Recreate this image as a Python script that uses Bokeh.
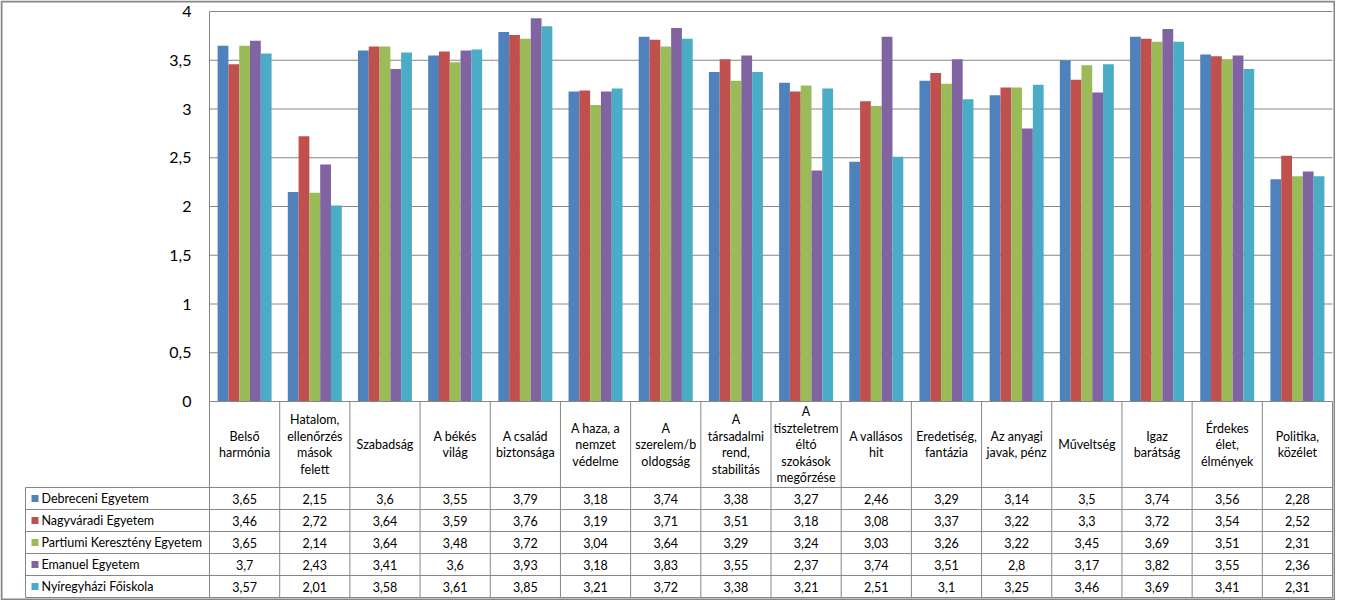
from bokeh.plotting import figure
from bokeh.models import Range1d, LinearAxis, FixedTicker, CustomJSTickFormatter
from bokeh.core.properties import value
from bokeh.embed import file_html
from bokeh.resources import INLINE
import numpy as np

# ---------------- data ----------------
categories = [
    "Belső\nharmónia",
    "Hatalom,\nellenőrzés\nmások\nfelett",
    "Szabadság",
    "A békés\nvilág",
    "A család\nbiztonsága",
    "A haza, a\nnemzet\nvédelme",
    "A\nszerelem/b\noldogság",
    "A\ntársadalmi\nrend,\nstabilitás",
    "A\ntiszteletrem\néltó\nszokások\nmegőrzése",
    "A vallásos\nhit",
    "Eredetiség,\nfantázia",
    "Az anyagi\njavak, pénz",
    "Műveltség",
    "Igaz\nbarátság",
    "Érdekes\nélet,\nélmények",
    "Politika,\nközélet",
]
series_names = [
    "Debreceni Egyetem",
    "Nagyváradi Egyetem",
    "Partiumi Keresztény Egyetem",
    "Emanuel Egyetem",
    "Nyíregyházi Főiskola",
]
debreceni = [3.65, 2.15, 3.6, 3.55, 3.79, 3.18, 3.74, 3.38, 3.27, 2.46, 3.29, 3.14, 3.5, 3.74, 3.56, 2.28]
nagyvaradi = [3.46, 2.72, 3.64, 3.59, 3.76, 3.19, 3.71, 3.51, 3.18, 3.08, 3.37, 3.22, 3.3, 3.72, 3.54, 2.52]
partiumi = [3.65, 2.14, 3.64, 3.48, 3.72, 3.04, 3.64, 3.29, 3.24, 3.03, 3.26, 3.22, 3.45, 3.69, 3.51, 2.31]
emanuel = [3.7, 2.43, 3.41, 3.6, 3.93, 3.18, 3.83, 3.55, 2.37, 3.74, 3.51, 2.8, 3.17, 3.82, 3.55, 2.36]
nyiregyhazi = [3.57, 2.01, 3.58, 3.61, 3.85, 3.21, 3.72, 3.38, 3.21, 2.51, 3.1, 3.25, 3.46, 3.69, 3.41, 2.31]
y_ticks = [0, 0.5, 1, 1.5, 2, 2.5, 3, 3.5, 4]
colors = ["#4F81BD", "#C0504D", "#9BBB59", "#8064A2", "#4BACC6"]

all_series = [debreceni, nagyvaradi, partiumi, emanuel, nyiregyhazi]

# ---------------- layout (figure pixels) ----------------
W, H = 1335, 600
PLOT_L, PLOT_R = 209, 1332
Y_TOP, Y_ZERO = 11, 401
Y_MAX = 4.0
ppu = (Y_ZERO - Y_TOP) / Y_MAX
n = len(categories)
ux = n / (PLOT_R - PLOT_L)
x_start = -0.5 - PLOT_L * ux
x_end = (n - 0.5) + (W - PLOT_R) * ux
y_end = Y_MAX + Y_TOP / ppu
y_start = -(H - Y_ZERO) / ppu

HEADER_BOTTOM = 487
TABLE_BOTTOM = 597
ROW_H = (TABLE_BOTTOM - HEADER_BOTTOM) / len(series_names)
LEG_L = 25

GRID = "#868686"
FONT = "Lato"

p = figure(width=W, height=H, x_range=Range1d(x_start, x_end), y_range=Range1d(y_start, y_end),
           output_backend="svg", toolbar_location=None, x_axis_location=None, y_axis_location=None,
           min_border=0, min_border_left=0, min_border_right=0, min_border_top=0, min_border_bottom=0)
p.grid.visible = False
p.outline_line_color = None
p.background_fill_color = "white"
p.border_fill_color = "white"
p.extra_y_ranges = {"tbl": Range1d(H, 0)}
p.extra_x_ranges = {"px": Range1d(0, W)}

# gridlines (value axis)
grid_vals = [t for t in y_ticks if t > 0]
p.segment(x0=[-0.5] * len(grid_vals), x1=[n - 0.5] * len(grid_vals), y0=grid_vals, y1=grid_vals,
          line_color=GRID, line_width=1)

# bars
bw = 1 / 6.5
xs = np.arange(n)
for s, (vals, col) in enumerate(zip(all_series, colors)):
    p.vbar(x=xs + (s - 2) * bw, top=vals, bottom=0, width=bw, fill_color=col, line_color=None)

# y axis at the plot's left edge
yax = LinearAxis(fixed_location=-0.5, ticker=FixedTicker(ticks=y_ticks),
                 formatter=CustomJSTickFormatter(code="return tick.toString().replace('.', ',')"))
yax.axis_line_color = None
yax.major_tick_out = 0
yax.major_tick_in = 0
yax.minor_tick_out = 0
yax.minor_tick_in = 0
yax.major_label_standoff = 18
yax.major_label_text_font = FONT
yax.major_label_text_font_size = "16px"
yax.major_label_text_color = "#000000"
p.add_layout(yax, "left")

# axis line
p.segment(x0=[-0.5], x1=[-0.5], y0=[0], y1=[Y_MAX], line_color=GRID, line_width=1)

# ---------------- data table ----------------
tb = dict(y_range_name="tbl")
p.segment(x0=[-0.5], x1=[n - 0.5], y0=[Y_ZERO], y1=[Y_ZERO], line_color=GRID, line_width=1, **tb)
bx = [i - 0.5 for i in range(n + 1)]
p.segment(x0=bx, x1=bx, y0=[Y_ZERO] * len(bx), y1=[TABLE_BOTTOM] * len(bx), line_color=GRID, line_width=1, **tb)
row_lines = [HEADER_BOTTOM + r * ROW_H for r in range(len(series_names) + 1)]
p.segment(x0=[LEG_L] * len(row_lines), x1=[PLOT_R] * len(row_lines), y0=row_lines, y1=row_lines,
          line_color=GRID, line_width=1, x_range_name="px", **tb)
p.segment(x0=[LEG_L], x1=[LEG_L], y0=[HEADER_BOTTOM], y1=[TABLE_BOTTOM], line_color=GRID, line_width=1,
          x_range_name="px", **tb)

# header texts
p.text(x=list(xs), y=[(Y_ZERO + HEADER_BOTTOM) / 2] * n, text=categories,
       text_font=value(FONT), text_font_size="12.5px", text_color="#000000",
       text_align="center", text_baseline="middle", text_line_height=1.1, **tb)

# legend column
row_c = [HEADER_BOTTOM + (r + 0.5) * ROW_H for r in range(len(series_names))]
p.rect(x=[LEG_L + 9.5] * len(series_names), y=row_c, width=7, height=7, fill_color=colors, line_color=None,
       x_range_name="px", **tb)
p.text(x=[LEG_L + 16] * len(series_names), y=row_c, text=series_names,
       text_font=value(FONT), text_font_size="12.5px", text_color="#000000",
       text_align="left", text_baseline="middle", x_range_name="px", **tb)

# values
for r, vals in enumerate(all_series):
    labels = [str(v).replace(".", ",") for v in vals]
    p.text(x=list(xs), y=[row_c[r]] * n, text=labels,
           text_font=value(FONT), text_font_size="12.5px", text_color="#000000",
           text_align="center", text_baseline="middle", **tb)

# outer chart border
p.quad(left=[1], right=[W - 1], top=[1], bottom=[H - 1], fill_color=None, line_color=GRID, line_width=2,
       x_range_name="px", **tb)

open("out.html", "w").write(file_html(p, INLINE))
